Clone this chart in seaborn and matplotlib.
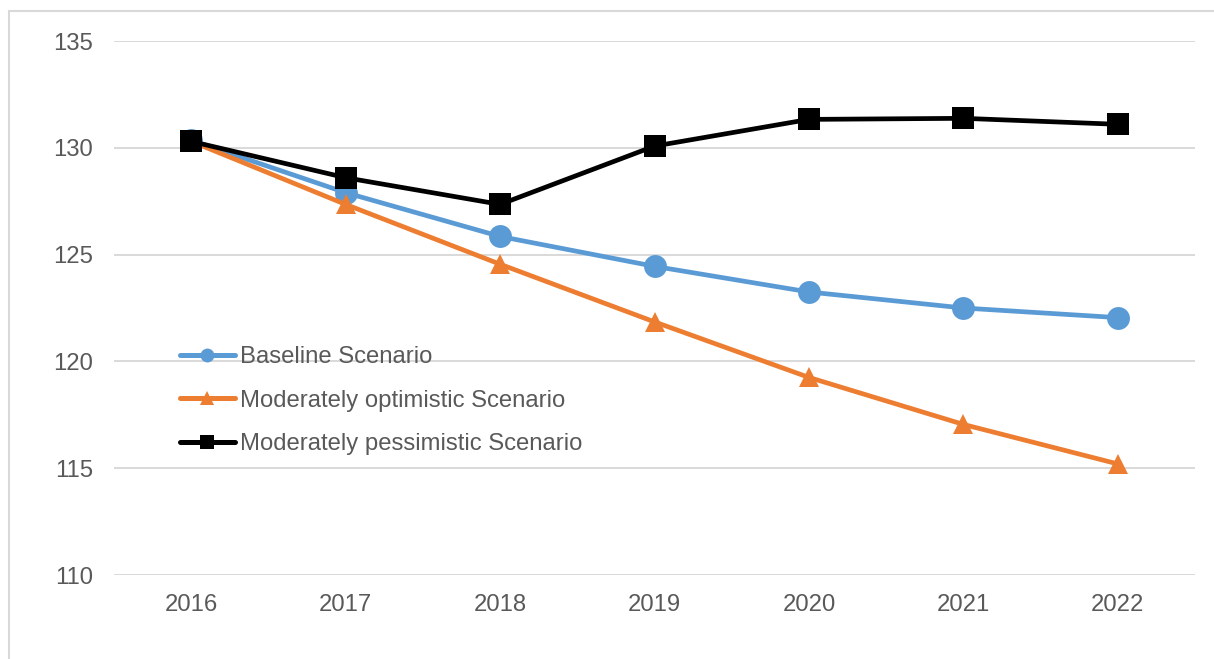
import matplotlib
matplotlib.use("Agg")
import matplotlib.pyplot as plt
import matplotlib.lines as mlines
import seaborn as sns
import pandas as pd

years = ["2016", "2017", "2018", "2019", "2020", "2021", "2022"]
baseline = [130.35, 127.9, 125.85, 124.45, 123.25, 122.5, 122.05]
optimistic = [130.3, 127.35, 124.55, 121.85, 119.25, 117.05, 115.2]
pessimistic = [130.3, 128.6, 127.35, 130.08, 131.33, 131.38, 131.1]
series_names = ["Baseline Scenario", "Moderately optimistic Scenario", "Moderately pessimistic Scenario"]
yticks = [110, 115, 120, 125, 130, 135]

df = pd.DataFrame({
    "year": years * 3,
    "value": baseline + optimistic + pessimistic,
    "series": [series_names[0]] * 7 + [series_names[1]] * 7 + [series_names[2]] * 7,
})

sns.set_theme(style="white")
plt.rcParams["font.family"] = ["Liberation Sans", "DejaVu Sans"]

colors = {series_names[0]: "#5B9BD5", series_names[1]: "#ED7D31", series_names[2]: "#000000"}
markers = {series_names[0]: "o", series_names[1]: "^", series_names[2]: "s"}
msizes = {series_names[0]: 16.5, series_names[1]: 15, series_names[2]: 16}

fig = plt.figure(figsize=(12.14, 6.59), dpi=100)
ax = fig.add_axes([114 / 1214, 1 - 575 / 659, (1195 - 114) / 1214, (575 - 41) / 659])

for name in series_names:
    sub = df[df["series"] == name]
    sns.lineplot(data=sub, x="year", y="value", ax=ax, color=colors[name],
                 marker=markers[name], markersize=msizes[name], markeredgewidth=0,
                 linewidth=3.4, legend=False, sort=False)

ax.set_xlim(-0.5, 6.5)
ax.set_ylim(110, 135)
ax.set_yticks(yticks)
ax.set_xlabel("")
ax.set_ylabel("")
ax.grid(axis="y", color="#D9D9D9", linewidth=1.4)
ax.set_axisbelow(True)
for s in ax.spines.values():
    s.set_visible(False)
ax.tick_params(axis="both", length=0, labelsize=17.2, labelcolor="#595959")
ax.tick_params(axis="y", pad=15)
ax.tick_params(axis="x", pad=14)

handles = [mlines.Line2D([], [], color=colors[n], marker=markers[n], markersize=10,
                         linewidth=3.6, markeredgewidth=0) for n in series_names]
leg = ax.legend(handles, series_names, loc="upper left",
                bbox_to_anchor=((180 - 114) / 1081, (575 - 346) / 534),
                frameon=False, fontsize=17.2, labelcolor="#595959",
                handlelength=2.3, handletextpad=0.2, labelspacing=0.9, borderpad=0,
                borderaxespad=0)

# Outer chart border (top and left visible)
fig.add_artist(mlines.Line2D([9 / 1214, 9 / 1214], [0, 1 - 11 / 659], transform=fig.transFigure,
                             color="#D9D9D9", linewidth=1.5))
fig.add_artist(mlines.Line2D([9 / 1214, 1], [1 - 11 / 659, 1 - 11 / 659], transform=fig.transFigure,
                             color="#D9D9D9", linewidth=1.5))

fig.savefig("out.png", dpi=100)
